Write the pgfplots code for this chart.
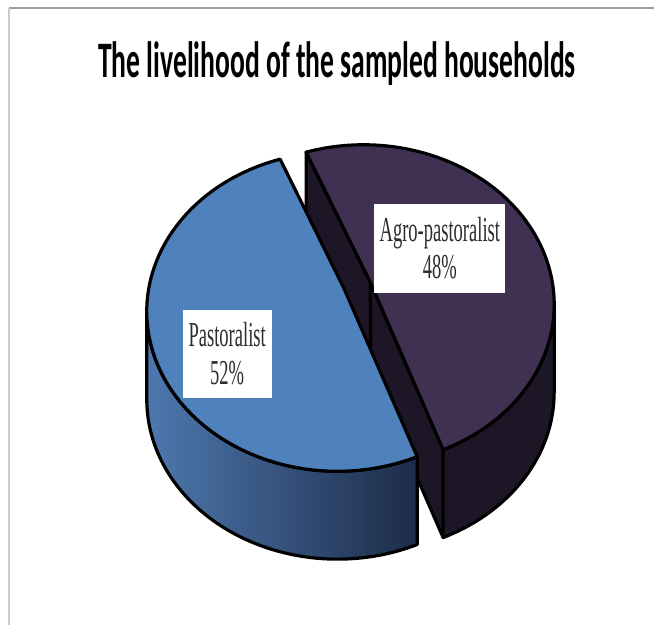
\documentclass[border=0pt]{standalone}
\usepackage{pgfplots}
\pgfplotsset{compat=1.18}
\usepackage{pgfplotstable}
\usepackage{graphicx}
\usepackage{fontspec}
\setmainfont{Liberation Serif}
\newfontfamily\titlefont{Carlito}

\definecolor{bluetop}{RGB}{79,129,189}
\definecolor{bluesideL}{RGB}{78,120,175}
\definecolor{bluesideR}{RGB}{28,44,72}
\definecolor{purptop}{RGB}{64,49,82}
\definecolor{purpside}{RGB}{29,22,38}
\definecolor{labeltext}{RGB}{45,45,45}
\tikzset{pie/.style={line width=1.6pt,line join=round,draw=black}}

\pgfplotstableread{
name value
Pastoralist 52
Agro-pastoralist 48
}\pietable

\begin{document}
\begin{tikzpicture}
\pgfplotstablegetelem{0}{value}\of\pietable
\pgfmathsetmacro{\vA}{\pgfplotsretval}
\pgfplotstablegetelem{1}{value}\of\pietable
\pgfmathsetmacro{\vB}{\pgfplotsretval}
\pgfmathsetmacro{\aS}{107.5}
\pgfmathsetmacro{\aM}{\aS+(\vA/(\vA+\vB))*360}
\pgfmathsetmacro{\aE}{\aS+360}
% geometry in px (axis units)
\def\rx{191}\def\ry{160}\def\dep{88}
\def\ebx{338}\def\eby{314}\def\abx{345}\def\aby{336}
\def\epx{364}\def\epy{321}\def\apx{371}\def\apy{343}
\pgfmathsetmacro{\rxpt}{\rx/2}
\pgfmathsetmacro{\rypt}{\ry/2}
\pgfmathsetmacro{\deppt}{\dep/2}
\pgfmathsetmacro{\bSx}{\ebx+\rx*cos(\aS)}
\pgfmathsetmacro{\bSy}{\eby+\ry*sin(\aS)}
\pgfmathsetmacro{\bMx}{\ebx+\rx*cos(\aM)}
\pgfmathsetmacro{\bMy}{\eby+\ry*sin(\aM)}
\pgfmathsetmacro{\pSx}{\epx+\rx*cos(\aS)}
\pgfmathsetmacro{\pSy}{\epy+\ry*sin(\aS)}
\pgfmathsetmacro{\pMx}{\epx+\rx*cos(\aM)}
\pgfmathsetmacro{\pMy}{\epy+\ry*sin(\aM)}
\pgfmathsetmacro{\bLx}{\ebx-\rx}
\pgfmathsetmacro{\apyD}{\apy-\dep}
\begin{axis}[x=0.5pt,y=0.5pt,xmin=0,xmax=655,ymin=0,ymax=626,
  scale only axis,axis lines=none,clip=false]
\path (axis cs:0,0) rectangle (axis cs:655,626);
% frame
\draw[gray!75,line width=1pt] (axis cs:9,618) -- (axis cs:655,618);
\draw[gray!40,line width=1pt] (axis cs:9,618) -- (axis cs:9,0);
% purple slice (exploded)
\draw[pie,fill=purpside] (axis cs:\apx,\apy) -- (axis cs:\pSx,\pSy) -- ++(0pt,-\deppt pt) -- (axis cs:\apx,\apyD) -- cycle;
\draw[pie,fill=purpside] (axis cs:\apx,\apy) -- (axis cs:\pMx,\pMy) -- ++(0pt,-\deppt pt) -- (axis cs:\apx,\apyD) -- cycle;
\draw[pie,fill=purpside] (axis cs:\pMx,\pMy) arc[start angle=\aM,end angle=360,x radius=\rxpt pt,y radius=\rypt pt] -- ++(0pt,-\deppt pt) arc[start angle=360,end angle=\aM,x radius=\rxpt pt,y radius=\rypt pt] -- cycle;
\draw[pie,fill=purptop] (axis cs:\apx,\apy) -- (axis cs:\pMx,\pMy) arc[start angle=\aM,end angle=\aE,x radius=\rxpt pt,y radius=\rypt pt] -- cycle;
% blue slice
\draw[pie,left color=bluesideL,right color=bluesideR] (axis cs:\bLx,\eby) arc[start angle=180,end angle=\aM,x radius=\rxpt pt,y radius=\rypt pt] -- ++(0pt,-\deppt pt) arc[start angle=\aM,end angle=180,x radius=\rxpt pt,y radius=\rypt pt] -- cycle;
\draw[pie,fill=bluetop] (axis cs:\abx,\aby) -- (axis cs:\bSx,\bSy) arc[start angle=\aS,end angle=\aM,x radius=\rxpt pt,y radius=\rypt pt] -- cycle;
% labels
\node[fill=white,inner sep=0pt,minimum width=65.5pt,minimum height=44.5pt,align=center,text=labeltext,font=\fontsize{17.5}{19}\selectfont] at (axis cs:440.5,377.5) {\scalebox{0.53}[1]{Agro-pastoralist}\\\scalebox{0.53}[1]{48\%}};
\node[fill=white,inner sep=0pt,minimum width=44.5pt,minimum height=44.5pt,align=center,text=labeltext,font=\fontsize{17.5}{19}\selectfont] at (axis cs:227.5,271.5) {\scalebox{0.53}[1]{Pastoralist}\\\scalebox{0.53}[1]{52\%}};
% title
\node[anchor=base,font=\titlefont\bfseries\fontsize{25.6}{30}\selectfont] at (axis cs:337.5,548) {\scalebox{0.54}[1]{The livelihood of the sampled households}};
\end{axis}
\end{tikzpicture}
\end{document}
